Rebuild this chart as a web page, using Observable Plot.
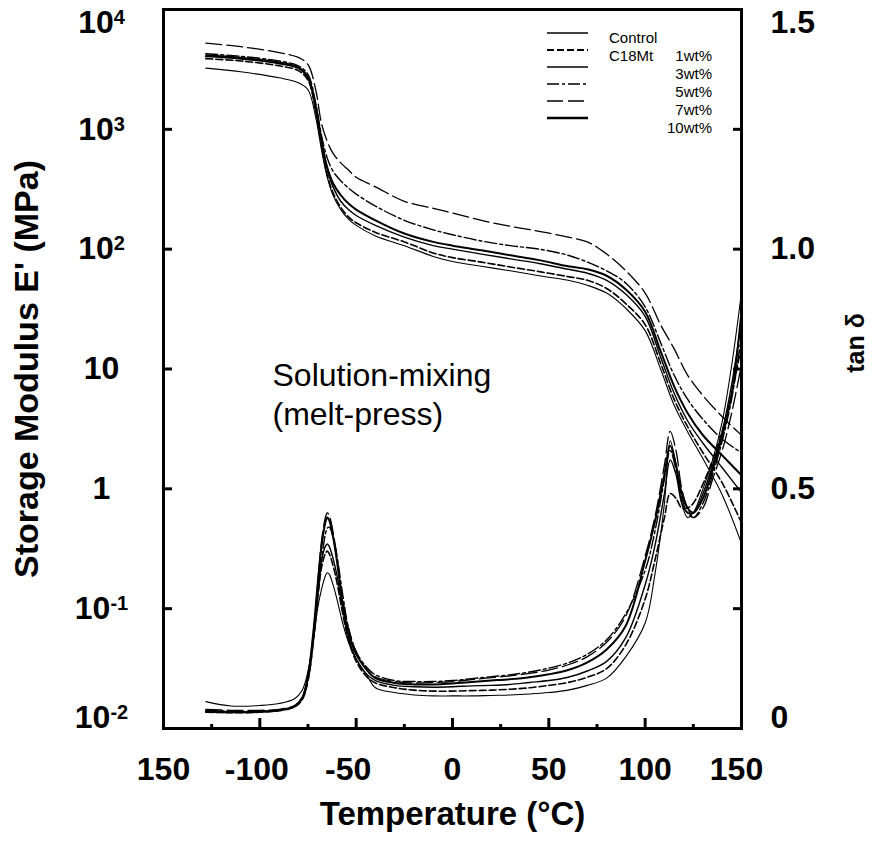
<!DOCTYPE html>
<html>
<head>
<meta charset="utf-8">
<script src="https://cdn.jsdelivr.net/npm/d3@7"></script>
<script src="https://cdn.jsdelivr.net/npm/@observablehq/plot@0.6"></script>
<style>
  body { margin: 0; background: #fff; }
  #wrap { position: relative; width: 880px; height: 849px; font-family: "Liberation Sans", Arial, sans-serif; }
</style>
</head>
<body>
<div id="wrap"></div>
<script>
// ---------- data ----------
const seriesKeys = ["Control", "1wt%", "3wt%", "5wt%", "7wt%", "10wt%"];
const legendNames = ["Control", "C18Mt", "", "", "", ""];
const legendWt = ["", "1wt%", "3wt%", "5wt%", "7wt%", "10wt%"];

// Storage modulus E' (MPa)
const tempE = [-128, -110, -90, -80, -75, -71, -68, -65, -62, -58, -54, -50, -40, -25, -10, 0, 15, 30, 45, 60, 70, 80, 90, 100, 108, 115, 122, 130, 140, 150];
const modControl = [3240, 3020, 2690, 2450, 2140, 1260, 676, 398, 282, 214, 178, 158, 129, 107, 87, 79, 72, 66, 60, 55, 50, 43, 32, 20.9, 10, 5.0, 3.0, 1.78, 0.89, 0.35];
const mod1 = [3890, 3720, 3390, 3090, 2570, 1410, 724, 417, 295, 224, 186, 166, 138, 115, 93, 85, 78, 71, 65, 59, 55, 47, 35, 23.4, 11.2, 5.6, 3.3, 2.0, 1.12, 0.52];
const mod3 = [4170, 3980, 3630, 3310, 2750, 1580, 832, 457, 331, 251, 214, 191, 158, 126, 107, 100, 91, 83, 76, 68, 63, 55, 42, 27.5, 12.6, 6.3, 3.7, 2.4, 1.5, 0.93];
const mod5 = [4270, 4070, 3720, 3390, 2880, 1660, 891, 575, 447, 372, 324, 288, 229, 174, 145, 132, 117, 107, 100, 89, 78, 66, 52, 33, 16.6, 8.9, 5.6, 3.8, 2.6, 2.0];
const mod7 = [5250, 4900, 4370, 3980, 3470, 2140, 1120, 794, 631, 525, 457, 398, 331, 251, 219, 200, 174, 155, 141, 126, 115, 91, 66, 43, 23.4, 14.8, 8.9, 6.0, 4.0, 2.8];
const mod10 = [4070, 3890, 3550, 3240, 2690, 1510, 794, 479, 355, 282, 240, 214, 174, 135, 115, 107, 98, 89, 81, 72, 68, 60, 46, 30, 14.1, 7.2, 4.3, 2.8, 1.9, 1.3];

// tan delta
const tempTan = [-128, -115, -100, -90, -82, -78, -75, -72, -70, -68, -66, -65, -64, -62, -60, -57, -54, -50, -45, -40,
  -30, -20, -10, 0, 10, 20, 30, 40, 50, 60, 70, 80, 90,
  100, 105, 110, 113, 116, 119, 122, 125, 130, 135, 140, 145, 150];
const tanControl = [0.056, 0.047, 0.048, 0.052, 0.062, 0.08, 0.12, 0.19, 0.25, 0.29, 0.318, 0.325, 0.322, 0.30, 0.27, 0.22, 0.18, 0.145, 0.115, 0.085,
  0.075, 0.07, 0.068, 0.068, 0.068, 0.069, 0.07, 0.072, 0.075, 0.08, 0.09, 0.105, 0.15,
  0.22, 0.32, 0.47, 0.60, 0.55, 0.47, 0.44, 0.45, 0.50, 0.56, 0.64, 0.76, 0.91];
const tan1 = [0.034, 0.033, 0.034, 0.037, 0.045, 0.06, 0.10, 0.19, 0.27, 0.335, 0.365, 0.37, 0.365, 0.34, 0.305, 0.24, 0.185, 0.14, 0.11, 0.095,
  0.085, 0.08, 0.078, 0.078, 0.079, 0.08, 0.082, 0.085, 0.09, 0.096, 0.107, 0.125, 0.175,
  0.27, 0.35, 0.44, 0.49, 0.48, 0.46, 0.46, 0.47, 0.51, 0.56, 0.62, 0.70, 0.80];
const tan3 = [0.037, 0.035, 0.035, 0.038, 0.046, 0.062, 0.105, 0.20, 0.28, 0.35, 0.38, 0.385, 0.38, 0.355, 0.32, 0.25, 0.19, 0.145, 0.115, 0.10,
  0.09, 0.087, 0.086, 0.087, 0.089, 0.09, 0.092, 0.096, 0.10, 0.107, 0.12, 0.14, 0.19,
  0.30, 0.38, 0.49, 0.56, 0.53, 0.47, 0.45, 0.45, 0.49, 0.55, 0.62, 0.72, 0.85];
const tan5 = [0.038, 0.036, 0.036, 0.039, 0.047, 0.062, 0.10, 0.19, 0.27, 0.35, 0.405, 0.418, 0.42, 0.40, 0.36, 0.28, 0.21, 0.16, 0.13, 0.112,
  0.10, 0.098, 0.098, 0.10, 0.104, 0.108, 0.112, 0.118, 0.126, 0.137, 0.155, 0.185, 0.24,
  0.33, 0.41, 0.52, 0.58, 0.54, 0.48, 0.45, 0.44, 0.47, 0.53, 0.60, 0.69, 0.82];
const tan7 = [0.04, 0.038, 0.038, 0.04, 0.048, 0.065, 0.11, 0.21, 0.30, 0.39, 0.44, 0.45, 0.445, 0.41, 0.36, 0.27, 0.21, 0.16, 0.125, 0.108,
  0.098, 0.095, 0.096, 0.098, 0.102, 0.106, 0.11, 0.115, 0.122, 0.133, 0.15, 0.18, 0.235,
  0.36, 0.44, 0.55, 0.62, 0.58, 0.50, 0.46, 0.44, 0.46, 0.52, 0.58, 0.66, 0.76];
const tan10 = [0.035, 0.034, 0.035, 0.038, 0.046, 0.064, 0.11, 0.21, 0.30, 0.38, 0.43, 0.44, 0.435, 0.40, 0.35, 0.26, 0.20, 0.155, 0.125, 0.105,
  0.095, 0.092, 0.092, 0.094, 0.097, 0.10, 0.103, 0.107, 0.113, 0.122, 0.138, 0.165, 0.215,
  0.35, 0.43, 0.53, 0.59, 0.55, 0.49, 0.46, 0.45, 0.48, 0.54, 0.61, 0.70, 0.87];

// ticks
const yTickValues = [0.01, 0.1, 1, 10, 100, 1000, 10000];
const yTickLabels = ["10^-2", "10^-1", "1", "10", "10^2", "10^3", "10^4"];
const tanTicks = [0, 0.25, 0.5, 0.75, 1.0, 1.25, 1.5];
const tanTickLabels = ["0", "", "0.5", "", "1.0", "", "1.5"];
const xMajor = [-150, -100, -50, 0, 50, 100, 150];
const xLabels = ["150", "-100", "-50", "0", "50", "100", "150"];
const xMinor = [-125, -75, -25, 25, 75, 125];

// ---------- styles / layout ----------
const styles = {
  "Control": {w: 1.1, dash: null},
  "1wt%":    {w: 1.6, dash: "7,3"},
  "3wt%":    {w: 1.4, dash: null},
  "5wt%":    {w: 1.4, dash: "12,3,3,3"},
  "7wt%":    {w: 1.3, dash: "16,5"},
  "10wt%":   {w: 2.0, dash: null}
};
const xLabelNudge = [0, -3, -8, 0, 0, 0, -5]; // printed label offsets (px)

// tan delta (0..1.5) shares the vertical space with log E' (1e-2..1e4)
const tanToY = t => Math.pow(10, -2 + 4 * t);

const modSeries = [modControl, mod1, mod3, mod5, mod7, mod10];
const tanSeries = [tanControl, tan1, tan3, tan5, tan7, tan10];
const modRows = seriesKeys.flatMap((k, i) => tempE.map((T, j) => ({k, T, E: modSeries[i][j]})));
const tanRows = seriesKeys.flatMap((k, i) => tempTan.map((T, j) => ({k, T, tan: tanSeries[i][j]})));

const yLabelMap = new Map(yTickValues.map((v, i) => [v, yTickLabels[i]]));
const tanTickY = tanTicks.map(tanToY);
const tanLabelFor = v => {
  const i = tanTickY.findIndex(u => Math.abs(Math.log10(u) - Math.log10(v)) < 1e-6);
  return i >= 0 ? tanTickLabels[i] : "";
};
const xLabelMap = new Map(xMajor.map((v, i) => [v, xLabels[i]]));

const boldText = {fontWeight: "bold", fill: "black"};

const chart = Plot.plot({
  width: 880,
  height: 849,
  marginLeft: 163,
  marginRight: 139,
  marginTop: 9,
  marginBottom: 121,
  x: {domain: [-150, 150]},
  y: {type: "log", domain: [0.01, 10000]},
  style: {fontFamily: "'Liberation Sans', Arial, sans-serif", color: "black", background: "white", overflow: "visible"},
  marks: [
    ...seriesKeys.map(k => Plot.line(modRows.filter(d => d.k === k), {
      x: "T", y: "E", stroke: "black", strokeWidth: styles[k].w,
      strokeDasharray: styles[k].dash, curve: "catmull-rom", clip: true
    })),
    ...seriesKeys.map(k => Plot.line(tanRows.filter(d => d.k === k), {
      x: "T", y: d => tanToY(d.tan), stroke: "black", strokeWidth: styles[k].w,
      strokeDasharray: styles[k].dash, curve: "catmull-rom", clip: true
    })),
    Plot.frame({stroke: "black", strokeWidth: 3}),
    // left axis
    Plot.axisY({anchor: "left", ticks: yTickValues, tickFormat: v => yLabelMap.get(v) ?? "",
      tickSize: -9, tickPadding: 71, textAnchor: "middle", fontSize: 32, strokeWidth: 3,
      label: null, ...boldText}),
    // right axis (tan delta)
    Plot.axisY({anchor: "right", ticks: tanTickY, tickFormat: tanLabelFor,
      tickSize: -9, tickPadding: 38, textAnchor: "start", fontSize: 32, strokeWidth: 3,
      label: null, ...boldText}),
    // bottom axis
    Plot.axisX({anchor: "bottom", ticks: xMajor, tickFormat: v => xLabelMap.get(v) ?? "",
      tickSize: -10, tickPadding: 39, fontSize: 32, strokeWidth: 3, label: null, ...boldText}),
    Plot.axisX({anchor: "bottom", ticks: xMinor, tickSize: -4, fill: "none", strokeWidth: 3, label: null}),
    // titles
    Plot.text(["Temperature (°C)"], {frameAnchor: "bottom", dy: 96, fontSize: 33, textAnchor: "middle", ...boldText}),
    Plot.text(["Storage Modulus E' (MPa)"], {frameAnchor: "left", dx: -136, rotate: -90, fontSize: 34, textAnchor: "middle", ...boldText}),
    Plot.text(["tan δ"], {frameAnchor: "right", dx: 114, dy: -26, rotate: -90, fontSize: 25, textAnchor: "middle", ...boldText}),
    // annotation
    Plot.text(["Solution-mixing\n(melt-press)"], {frameAnchor: "top-left", dx: 109, dy: 349,
      textAnchor: "start", lineAnchor: "top", lineHeight: 1.22, fontSize: 32, fill: "black"})
  ]
});

document.getElementById("wrap").appendChild(chart);

const svg = d3.select(chart);
const parseT = tr => {
  const m = tr && tr.match(/translate\(([-\d.e]+),\s*([-\d.e]+)\)/);
  return m ? {m: m[0], x: +m[1], y: +m[2]} : null;
};
// superscripts and end-label nudges on the y axes
svg.selectAll('g[aria-label="y-axis tick label"] text').each(function () {
  const el = d3.select(this);
  const t = this.textContent;
  if (t.includes("^")) {
    const [b, e] = t.split("^");
    el.text(null);
    el.append("tspan").text(b);
    el.append("tspan").attr("dy", "-0.45em").attr("font-size", "20px").text(e);
  }
  const tr = el.attr("transform");
  const p = parseT(tr);
  if (p) {
    let s = 0;
    if (p.y < 30) s = 13;
    if (p.y > 700) s = -11;
    if (s) el.attr("transform", tr.replace(p.m, `translate(${p.x},${p.y + s})`));
  }
});
// x tick labels sit slightly off their ticks in the print
svg.selectAll('g[aria-label="x-axis tick label"] text').each(function () {
  const el = d3.select(this);
  const i = xLabels.indexOf(this.textContent);
  const tr = el.attr("transform");
  const p = parseT(tr);
  if (p && i >= 0) {
    const idx = (this.textContent === "150" && p.x > 450) ? 6 : i;
    el.attr("transform", tr.replace(p.m, `translate(${p.x + xLabelNudge[idx]},${p.y})`));
  }
});

// legend (inside the frame, top right)
const leg = d3.select("#wrap").append("svg")
  .attr("width", 880).attr("height", 849)
  .style("position", "absolute").style("left", "0px").style("top", "0px")
  .style("pointer-events", "none")
  .style("font-family", "'Liberation Sans', Arial, sans-serif");
seriesKeys.forEach((k, i) => {
  leg.append("line")
    .attr("x1", 547).attr("x2", 588)
    .attr("y1", 33 + 17 * i).attr("y2", 33 + 17 * i)
    .attr("stroke", "black").attr("stroke-width", styles[k].w + 0.3)
    .attr("stroke-dasharray", styles[k].dash);
  if (legendNames[i]) leg.append("text").attr("x", 609).attr("y", 43 + 18 * i)
    .attr("font-size", 15).text(legendNames[i]);
  if (legendWt[i]) leg.append("text").attr("x", 712).attr("y", 43 + 18 * i)
    .attr("text-anchor", "end").attr("font-size", 15).text(legendWt[i]);
});
</script>
</body>
</html>
